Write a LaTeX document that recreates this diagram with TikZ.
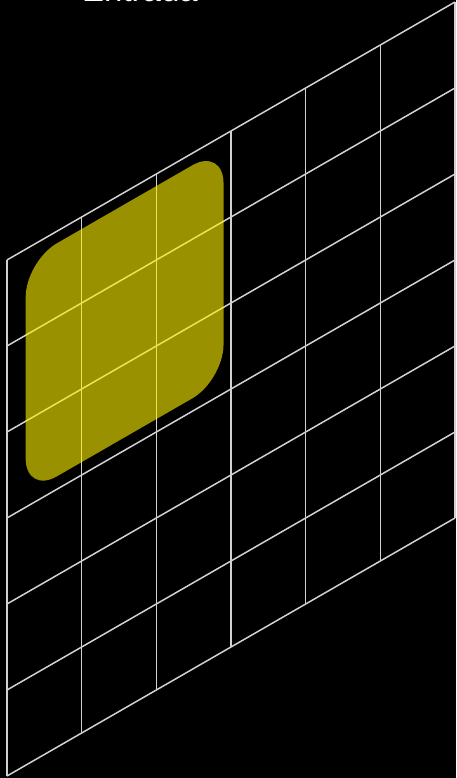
\documentclass[tikz,border=0pt]{standalone}
\usepackage{fontspec}
\setsansfont{Liberation Sans}
\tikzset{
  gridline/.style={line width=1.5pt,black!18!white},
  patch/.style={fill=yellow,opacity=.6,rounded corners=36pt}
}
\begin{document}
\begin{tikzpicture}[x=1pt,y=1pt]
  \fill[black] (0,0) rectangle (456,778);
  \useasboundingbox (0,0) rectangle (456,778);
  \node[anchor=base west,inner sep=0pt,text=white,font=\sffamily\fontsize{33}{36}\selectfont]
       (title) at (82,776) {Entrada};
  %
  \begin{scope}[shift={(7,2)},x={(74.67pt,43pt)},y={(0pt,86pt)}]
    \foreach \i in {0,...,6}
      {\draw[gridline] (\i,0) -- (\i,6);
       \draw[gridline] (0,\i) -- (6,\i);}
    % the yellow area on top of the grid
    \fill[patch] (0.25,3.15) -- (2.9,3.15) -- (2.9,5.86) -- (0.25,5.86) -- cycle;
  \end{scope}
\end{tikzpicture}
\end{document}
